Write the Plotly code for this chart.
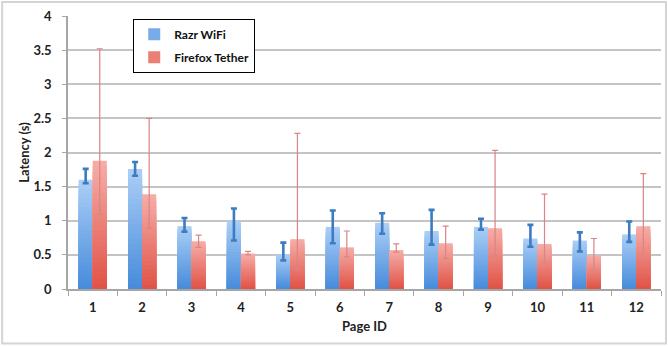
import plotly.graph_objects as go

# Page load latency per page, two connection setups
pages = ["1", "2", "3", "4", "5", "6", "7", "8", "9", "10", "11", "12"]

razr_mean = [1.60, 1.76, 0.92, 1.00, 0.51, 0.91, 0.97, 0.85, 0.91, 0.74, 0.71, 0.80]
razr_high = [1.76, 1.86, 1.04, 1.18, 0.68, 1.15, 1.11, 1.16, 1.03, 0.94, 0.83, 0.99]
razr_low = [1.55, 1.66, 0.84, 0.71, 0.42, 0.67, 0.81, 0.65, 0.87, 0.62, 0.55, 0.69]

tether_mean = [1.88, 1.39, 0.70, 0.52, 0.73, 0.61, 0.57, 0.67, 0.89, 0.66, 0.49, 0.92]
tether_high = [3.52, 2.50, 0.79, 0.55, 2.28, 0.85, 0.66, 0.92, 2.03, 1.39, 0.74, 1.69]
tether_low = [1.10, 0.89, 0.61, 0.50, 0.28, 0.47, 0.54, 0.45, 0.49, 0.39, 0.28, 0.47]

BAR_W = 0.285
N_STEPS = 24
FONT = "Lato"


def mix(c1, c2, t):
    r = [round(a + (b - a) * t) for a, b in zip(c1, c2)]
    return f"rgb({r[0]},{r[1]},{r[2]})"


series = [
    dict(name="Razr WiFi", mean=razr_mean, hi=razr_high, lo=razr_low,
         top=(170, 206, 246), bottom=(72, 140, 219), offset=-BAR_W,
         err_color="#3d7cc0", err_thick=2.6),
    dict(name="Firefox Tether", mean=tether_mean, hi=tether_high, lo=tether_low,
         top=(246, 172, 166), bottom=(224, 84, 72), offset=0.0,
         err_color="#d98585", err_thick=1.2),
]

fig = go.Figure()

for s in series:
    # stacked-down layers give each bar a light-top / dark-bottom gradient
    for k in range(N_STEPS):
        frac = (N_STEPS - k) / N_STEPS
        fig.add_trace(go.Bar(
            x=pages,
            y=[v * frac for v in s["mean"]],
            offset=s["offset"],
            width=BAR_W,
            marker=dict(color=mix(s["top"], s["bottom"], k / (N_STEPS - 1)), line=dict(width=0)),
            name=s["name"],
            legendgroup=s["name"],
            showlegend=(k == N_STEPS // 2),
            hoverinfo="skip",
        ))

for s in series:
    # transparent bar carrying the asymmetric error bars, drawn on top
    fig.add_trace(go.Bar(
        x=pages,
        y=s["mean"],
        offset=s["offset"],
        width=BAR_W,
        marker=dict(color="rgba(0,0,0,0)", line=dict(width=0)),
        error_y=dict(
            type="data",
            symmetric=False,
            array=[h - m for h, m in zip(s["hi"], s["mean"])],
            arrayminus=[m - l for m, l in zip(s["mean"], s["lo"])],
            color=s["err_color"],
            thickness=s["err_thick"],
            width=3,
        ),
        name=s["name"],
        legendgroup=s["name"],
        showlegend=False,
    ))

fig.update_layout(
    width=668,
    height=347,
    barmode="overlay",
    paper_bgcolor="white",
    plot_bgcolor="white",
    margin=dict(l=68, r=7, t=16, b=58),
    font=dict(family=FONT, size=13, color="#222222"),
    legend=dict(
        x=0.11, y=0.99, xanchor="left", yanchor="top",
        bgcolor="white", bordercolor="black", borderwidth=1,
        font=dict(family=FONT, size=12, color="#111111", weight="bold"),
        traceorder="grouped", tracegroupgap=4,
        itemwidth=30,
    ),
    xaxis=dict(
        type="category",
        range=[-0.5, 11.5],
        showline=True, linecolor="#a6a6a6", linewidth=1.5,
        ticks="outside", tickson="boundaries", ticklen=5, tickcolor="#a6a6a6",
        tickfont=dict(family=FONT, size=13, color="#222222", weight="bold"),
        ticklabelstandoff=6,
        showgrid=False,
        title=dict(text="Page ID", standoff=8,
                   font=dict(family=FONT, size=13, color="#222222", weight="bold")),
    ),
    yaxis=dict(
        range=[0, 4],
        dtick=0.5,
        showline=True, linecolor="#a6a6a6", linewidth=1.5,
        ticks="outside", ticklen=4, tickcolor="#a6a6a6",
        tickfont=dict(family=FONT, size=13, color="#222222", weight="bold"),
        ticklabelstandoff=8,
        showgrid=True, gridcolor="#c4c4c4", gridwidth=1.5,
        zeroline=False,
        title=dict(text="Latency (s)", standoff=1,
                   font=dict(family=FONT, size=13, color="#222222", weight="bold")),
    ),
    shapes=[
        dict(type="rect", xref="paper", yref="paper",
             x0=-0.111, x1=1.0084, y0=-0.2, y1=1.051,
             line=dict(color="#d4d4d4", width=2), layer="below"),
    ],
)

fig.write_html("out.html")
